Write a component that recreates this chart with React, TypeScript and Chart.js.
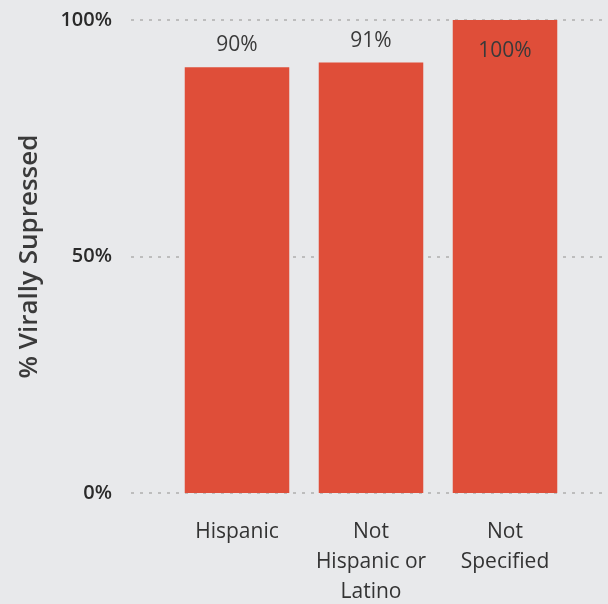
import React, { useEffect, useRef } from "react";
import { Chart, registerables } from "chart.js";

Chart.register(...registerables);

const categories: string[][] = [["Hispanic"], ["Not", "Hispanic or", "Latino"], ["Not", "Specified"]];
const values: number[] = [90, 91, 100];
const yTicks: number[] = [0, 50, 100];
const yTitle = "% Virally Supressed";

const BG = "#e8e9eb";
const BAR = "#df4e39";

const gridPlugin = {
  id: "extGrid",
  beforeDatasetsDraw(chart: any) {
    const { ctx, scales } = chart;
    const y = scales.y;
    ctx.save();
    ctx.strokeStyle = "#bdbdbd";
    ctx.lineWidth = 2;
    ctx.setLineDash([3, 6]);
    yTicks.forEach((t) => {
      const py = Math.round(y.getPixelForValue(t));
      ctx.beginPath();
      ctx.moveTo(131, py);
      ctx.lineTo(chart.width, py);
      ctx.stroke();
    });
    ctx.restore();
  },
};

const labelPlugin = {
  id: "dataLabels",
  afterDatasetsDraw(chart: any) {
    const { ctx } = chart;
    const meta = chart.getDatasetMeta(0);
    ctx.save();
    ctx.font = "21px 'Open Sans'";
    ctx.fillStyle = "#3a3a3a";
    ctx.textAlign = "center";
    ctx.textBaseline = "middle";
    meta.data.forEach((bar: any, i: number) => {
      const v = values[i];
      const top = bar.y;
      const ty = top - chart.chartArea.top < 35 ? top + 31 : top - 22;
      ctx.fillText(`${v}%`, bar.x, ty);
    });
    ctx.restore();
  },
};

export default function App() {
  const ref = useRef<HTMLCanvasElement>(null);
  useEffect(() => {
    document.body.style.margin = "0";
    const chart = new Chart(ref.current!, {
      type: "bar",
      data: {
        labels: categories,
        datasets: [
          {
            data: values,
            backgroundColor: BAR,
            barPercentage: 0.78,
            categoryPercentage: 1,
          },
        ],
      },
      options: {
        animation: false,
        responsive: false,
        layout: { padding: { top: 20, right: 36, left: 0, bottom: 0 } },
        plugins: { legend: { display: false }, tooltip: { enabled: false } },
        scales: {
          x: {
            grid: { display: false, drawTicks: false },
            border: { display: false },
            ticks: {
              padding: 24,
              color: "#333",
              font: { family: "'Open Sans'", size: 21, lineHeight: "30px" },
              maxRotation: 0,
              autoSkip: false,
            },
            afterFit(scale: any) {
              scale.height = 111;
              scale.paddingLeft = 0;
              scale.paddingRight = 0;
            },
          },
          y: {
            min: 0,
            max: 100,
            afterBuildTicks(scale: any) {
              scale.ticks = yTicks.map((v) => ({ value: v }));
            },
            grid: { display: false, drawTicks: false },
            border: { display: false },
            ticks: {
              padding: 58,
              color: "#2a2a2a",
              font: { family: "'Open Sans'", size: 20, weight: "600" },
              callback: (v: any) => `${v}%`,
            },
            title: {
              display: true,
              text: yTitle,
              color: "#3a3a3a",
              font: { family: "'Open Sans'", size: 26, weight: "600" },
              padding: { top: 14, bottom: 0 },
            },
            afterFit(scale: any) {
              scale.width = 170;
              scale.paddingTop = 0;
              scale.paddingBottom = 0;
            },
          },
        },
      },
      plugins: [gridPlugin, labelPlugin],
    });
    return () => chart.destroy();
  }, []);
  return (
    <div style={{ width: 608, height: 604, background: BG }}>
      <canvas ref={ref} width={608} height={604} style={{ display: "block" }} />
    </div>
  );
}
